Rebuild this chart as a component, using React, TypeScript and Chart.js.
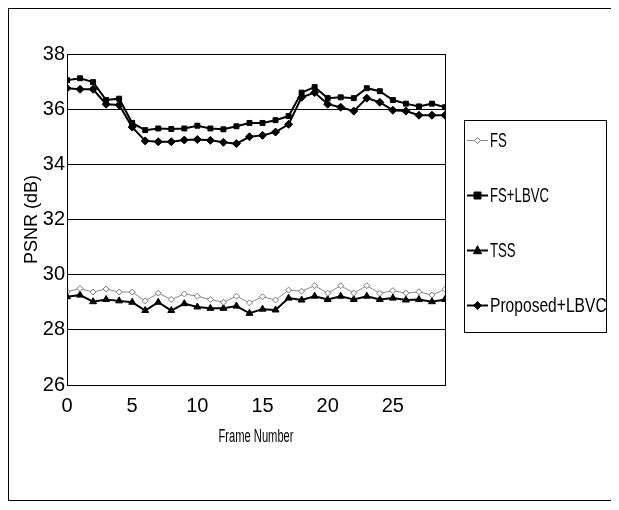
import React, { useEffect, useRef } from 'react';
import { Chart, registerables } from 'chart.js';

Chart.register(...registerables);

const frames = [0, 1, 2, 3, 4, 5, 6, 7, 8, 9, 10, 11, 12, 13, 14, 15, 16, 17, 18, 19, 20, 21, 22, 23, 24, 25, 26, 27, 28, 29];
const seriesNames = ['FS', 'FS+LBVC', 'TSS', 'Proposed+LBVC'];
const fsValues = [29.38, 29.5, 29.37, 29.48, 29.37, 29.37, 29.05, 29.33, 29.1, 29.3, 29.22, 29.1, 29.0, 29.22, 28.98, 29.2, 29.08, 29.44, 29.4, 29.6, 29.33, 29.6, 29.33, 29.6, 29.32, 29.42, 29.33, 29.38, 29.26, 29.47];
const fsLbvcValues = [37.05, 37.12, 36.98, 36.33, 36.38, 35.5, 35.24, 35.3, 35.28, 35.3, 35.4, 35.3, 35.27, 35.38, 35.5, 35.5, 35.6, 35.75, 36.6, 36.8, 36.4, 36.43, 36.4, 36.76, 36.65, 36.33, 36.2, 36.1, 36.2, 36.07];
const tssValues = [29.2, 29.26, 29.02, 29.1, 29.05, 29.0, 28.7, 29.0, 28.7, 28.95, 28.83, 28.78, 28.78, 28.86, 28.6, 28.75, 28.72, 29.15, 29.08, 29.22, 29.1, 29.22, 29.1, 29.22, 29.1, 29.15, 29.08, 29.1, 29.02, 29.1];
const proposedValues = [36.76, 36.72, 36.72, 36.18, 36.15, 35.35, 34.85, 34.82, 34.82, 34.88, 34.9, 34.87, 34.8, 34.75, 35.0, 35.05, 35.17, 35.45, 36.43, 36.6, 36.18, 36.07, 35.93, 36.4, 36.25, 35.96, 35.93, 35.78, 35.78, 35.78];
const xTitle = 'Frame Number';
const yTitle = 'PSNR (dB)';
const yMin = 26;
const yMax = 38;
const yStep = 2;
const xStep = 5;

const SANS = "'Liberation Sans', Arial, sans-serif";

const toPoints = (vals: number[]) => frames.map((f, i) => ({ x: f, y: vals[i] }));

function drawMarker(ctx: CanvasRenderingContext2D, style: string, x: number, y: number, r: number, fill: string, stroke: string) {
  ctx.save();
  ctx.fillStyle = fill;
  ctx.strokeStyle = stroke;
  ctx.lineWidth = 1;
  ctx.beginPath();
  if (style === 'rect') {
    ctx.rect(x - r, y - r, 2 * r, 2 * r);
  } else if (style === 'triangle') {
    ctx.moveTo(x, y - r * 1.2);
    ctx.lineTo(x + r, y + r * 0.8);
    ctx.lineTo(x - r, y + r * 0.8);
    ctx.closePath();
  } else {
    ctx.moveTo(x, y - r);
    ctx.lineTo(x + r, y);
    ctx.lineTo(x, y + r);
    ctx.lineTo(x - r, y);
    ctx.closePath();
  }
  ctx.fill();
  ctx.stroke();
  ctx.restore();
}

const framePlugin = {
  id: 'frameAndLegend',
  afterDraw(chart: any) {
    const ctx: CanvasRenderingContext2D = chart.ctx;
    const { left, right, top, bottom } = chart.chartArea;
    ctx.save();
    ctx.strokeStyle = '#000';
    ctx.lineWidth = 1;
    ctx.strokeRect(Math.round(left) + 0.5, Math.round(top) + 0.5, Math.round(right - left), Math.round(bottom - top));

    // condensed x-axis title
    ctx.save();
    ctx.fillStyle = '#000';
    ctx.font = `18px ${SANS}`;
    ctx.textAlign = 'center';
    ctx.textBaseline = 'middle';
    ctx.translate((left + right) / 2, 428);
    ctx.scale(0.62, 1);
    ctx.fillText(xTitle, 0, 0);
    ctx.restore();

    // legend box
    const bx = 455, by = 111, bw = 142, bh = 212;
    ctx.strokeRect(bx + 0.5, by + 0.5, bw, bh);
    ctx.beginPath();
    ctx.rect(bx + 1, by + 1, bw - 1, bh - 1);
    ctx.clip();
    const ds = chart.data.datasets;
    ds.forEach((d: any, i: number) => {
      const y = 131 + i * 55;
      ctx.strokeStyle = d.borderColor;
      ctx.lineWidth = d.borderWidth;
      ctx.beginPath();
      ctx.moveTo(bx + 3, y + 0.5);
      ctx.lineTo(bx + 24, y + 0.5);
      ctx.stroke();
      drawMarker(ctx, d.pointStyle, bx + 13.5, y + 0.5, d.pointRadius, d.pointBackgroundColor, d.pointBorderColor);
      ctx.save();
      ctx.fillStyle = '#000';
      ctx.font = `20px ${SANS}`;
      ctx.textBaseline = 'middle';
      ctx.translate(bx + 26, y + 1);
      ctx.scale(i === 3 ? 0.78 : 0.66, 1);
      ctx.fillText(d.label, 0, 0);
      ctx.restore();
    });
    ctx.restore();
  },
};

export default function App() {
  const canvasRef = useRef<HTMLCanvasElement | null>(null);

  useEffect(() => {
    const canvas = canvasRef.current;
    if (!canvas) return;
    const chart = new Chart(canvas, {
      type: 'line',
      data: {
        datasets: [
          {
            label: seriesNames[0],
            data: toPoints(fsValues),
            borderColor: '#8a8a8a',
            borderWidth: 1,
            pointStyle: 'rectRot',
            pointRadius: 3,
            pointBackgroundColor: '#ffffff',
            pointBorderColor: '#777777',
            pointBorderWidth: 1,
          },
          {
            label: seriesNames[1],
            data: toPoints(fsLbvcValues),
            borderColor: '#000',
            borderWidth: 2,
            pointStyle: 'rect',
            pointRadius: 3.5,
            pointBackgroundColor: '#000',
            pointBorderColor: '#000',
            pointBorderWidth: 1,
          },
          {
            label: seriesNames[2],
            data: toPoints(tssValues),
            borderColor: '#000',
            borderWidth: 2,
            pointStyle: 'triangle',
            pointRadius: 4,
            pointBackgroundColor: '#000',
            pointBorderColor: '#000',
            pointBorderWidth: 1,
          },
          {
            label: seriesNames[3],
            data: toPoints(proposedValues),
            borderColor: '#000',
            borderWidth: 2,
            pointStyle: 'rectRot',
            pointRadius: 4,
            pointBackgroundColor: '#000',
            pointBorderColor: '#000',
            pointBorderWidth: 1,
          },
        ],
      },
      options: {
        animation: false,
        responsive: false,
        maintainAspectRatio: false,
        layout: { padding: { left: 12, right: 167, top: 45, bottom: 53 } },
        plugins: { legend: { display: false }, tooltip: { enabled: false } },
        elements: { line: { tension: 0 } },
        scales: {
          x: {
            type: 'linear',
            min: frames[0],
            max: frames[frames.length - 1],
            afterBuildTicks: (scale: any) => {
              scale.ticks = scale.ticks.filter((t: any) => t.value % xStep === 0);
            },
            afterFit: (scale: any) => {
              scale.height = 62;
            },
            ticks: { stepSize: xStep, color: '#000', font: { family: SANS, size: 20 }, padding: 9, maxRotation: 0 },
            grid: { display: false, drawTicks: false },
            border: { display: true, color: '#000', width: 1 },
            title: { display: false },
          },
          y: {
            min: yMin,
            max: yMax,
            afterFit: (scale: any) => {
              scale.width = 46;
            },
            ticks: { stepSize: yStep, color: '#000', font: { family: SANS, size: 20 }, padding: 2 },
            grid: { color: '#000', lineWidth: 1, drawTicks: false },
            border: { display: true, color: '#000', width: 1 },
            title: {
              display: true,
              text: yTitle,
              color: '#000',
              font: { family: SANS, size: 18 },
              padding: { top: 0, bottom: 0 },
            },
          },
        },
      },
      plugins: [framePlugin],
    });
    return () => chart.destroy();
  }, []);

  return (
    <div style={{ width: 603, height: 491, border: '1px solid #000', background: '#fff' }}>
      <canvas ref={canvasRef} width={603} height={491} style={{ display: 'block', width: 603, height: 491 }} />
    </div>
  );
}
